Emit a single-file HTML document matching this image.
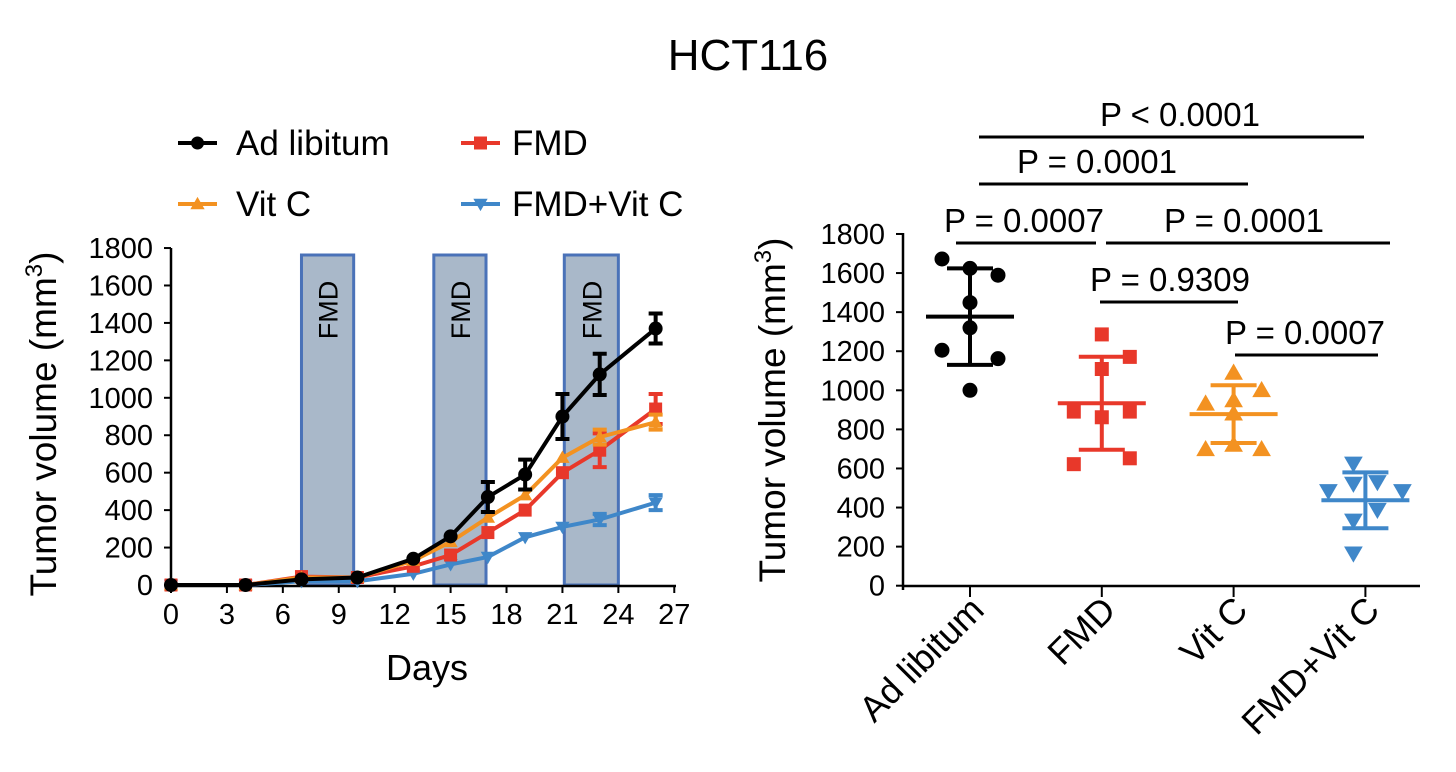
<!DOCTYPE html>
<html><head><meta charset="utf-8"><style>
body{margin:0;background:#fff}
svg{display:block;font-family:"Liberation Sans",Arial,sans-serif}
</style></head><body>
<svg id="s" width="1456" height="772" viewBox="0 0 1456 772">
<text x="748" y="70" font-size="44" text-anchor="middle">HCT116</text>
<g id="L"></g>
<g id="R"></g>
</svg>
<script>
const days=[0,4,7,10,13,15,17,19,21,23,26];
const adLib=[0,0,30,40,140,260,470,590,900,1125,1370];
const adLibErr=[0,0,0,0,0,0,80,80,120,110,80];
const fmd=[0,0,45,40,100,160,280,400,600,720,940];
const fmdErr=[0,0,0,0,0,0,0,0,0,90,80];
const vitc=[0,0,40,40,130,230,360,480,680,790,870];
const vitcErr=[0,0,0,0,0,0,0,0,0,40,40];
const combo=[0,0,20,20,60,110,150,255,310,350,440];
const comboErr=[0,0,0,0,0,0,0,0,0,30,40];
const fmdPeriods=[[7,9.8],[14.1,16.9],[21.1,24]];
const xTicks=[0,3,6,9,12,15,18,21,24,27];
const yTicks=[0,200,400,600,800,1000,1200,1400,1600,1800];
const groups=["Ad libitum","FMD","Vit C","FMD+Vit C"];
const gAd=[1672,1624,1589,1449,1320,1205,1162,1000];
const gFmd=[1286,1171,1109,891,891,862,652,622];
const gVit=[1089,1000,931,948,880,698,720,698];
const gCombo=[626,523,531,485,485,389,334,166];
const gMean=[1377,934,878,437];
const gSD=[247,238,148,143];
const pLabels=["P < 0.0001","P = 0.0001","P = 0.0007","P = 0.0001","P = 0.9309","P = 0.0007"];
const NS="http://www.w3.org/2000/svg";
function mk(p,t,a){const e=document.createElementNS(NS,t);for(const k in a)e.setAttribute(k,a[k]);p.appendChild(e);return e;}
const L=document.getElementById('L'),R=document.getElementById('R');
const lx=d=>171+d*18.64, ly=v=>585-v*0.1872;
fmdPeriods.forEach((p,i)=>{
 const r=mk(L,'rect',{x:lx(p[0]),y:255,width:lx(p[1])-lx(p[0]),height:ly(0)-255,fill:'#a9b8c9',stroke:'#4a72b8','stroke-width':3});
 
 const cx=(lx(p[0])+lx(p[1]))/2;
 const t=mk(L,'text',{x:0,y:0,'font-size':27,'text-anchor':'middle',transform:`translate(${cx+10},${310}) rotate(-90)`});t.textContent='FMD';
 
});
mk(L,'line',{x1:171,y1:248,x2:171,y2:587,stroke:'#000','stroke-width':2.5});
mk(L,'line',{x1:170,y1:586,x2:676,y2:586,stroke:'#000','stroke-width':2.5});
yTicks.forEach(v=>{mk(L,'line',{x1:164,x2:171,y1:ly(v),y2:ly(v),stroke:'#000','stroke-width':2});
 const t=mk(L,'text',{x:153,y:ly(v)+10,'font-size':29,'text-anchor':'end'});t.textContent=v;
 });
xTicks.forEach(v=>{mk(L,'line',{x1:lx(v),x2:lx(v),y1:586,y2:593,stroke:'#000','stroke-width':2});
 const t=mk(L,'text',{x:lx(v),y:624,'font-size':29,'text-anchor':'middle'});t.textContent=v;
 });
let t=mk(L,'text',{x:427,y:680,'font-size':36,'text-anchor':'middle'});t.textContent='Days';

t=mk(L,'text',{x:0,y:0,'font-size':37,'text-anchor':'middle',transform:'translate(56,424) rotate(-90)'});
t.innerHTML='Tumor volume (mm<tspan dy="-14" font-size="24">3</tspan><tspan dy="14">)</tspan>';

function marker(p,shape,x,y,c,s){
 if(shape==='c')return mk(p,'circle',{cx:x,cy:y,r:s,fill:c});
 if(shape==='s')return mk(p,'rect',{x:x-s,y:y-s,width:2*s,height:2*s,fill:c});
 if(shape==='u')return mk(p,'polygon',{points:`${x},${y-s*1.1} ${x-s*1.1},${y+s*0.8} ${x+s*1.1},${y+s*0.8}`,fill:c});
 return mk(p,'polygon',{points:`${x},${y+s*1.1} ${x-s*1.1},${y-s*0.8} ${x+s*1.1},${y-s*0.8}`,fill:c});
}
const series=[[combo,comboErr,'#3f87c9','d','fmd-vitc'],[fmd,fmdErr,'#e8382a','s','fmd'],[vitc,vitcErr,'#f39221','u','vitc'],[adLib,adLibErr,'#000','c','ad-libitum']];
series.forEach(([vals,err,c,sh,nm])=>{
 const g=mk(L,'g',{});
 mk(g,'polyline',{points:days.map((d,i)=>lx(d)+','+ly(vals[i])).join(' '),fill:'none',stroke:c,'stroke-width':4});
 days.forEach((d,i)=>{
  if(err[i]>0){const x=lx(d),a=ly(vals[i]+err[i]),b=ly(vals[i]-err[i]);
   mk(g,'path',{d:`M${x},${a}V${b}M${x-7},${a}H${x+7}M${x-7},${b}H${x+7}`,stroke:c,'stroke-width':4,fill:'none'});}
  const m=marker(g,sh,lx(d),ly(vals[i]),c,sh==='c'?7:6.5);
  
 });
});
const leg=[['Ad libitum','#000','c',178,143,236],['FMD','#e8382a','s',461,143,512],['Vit C','#f39221','u',178,204,236],['FMD+Vit C','#3f87c9','d',461,204,512]];
leg.forEach(([n,c,sh,x,y,tx])=>{const g=mk(L,'g',{});
 mk(g,'line',{x1:x,x2:x+39,y1:y,y2:y,stroke:c,'stroke-width':4});marker(g,sh,x+19.5,y,c,6.5);
 const t=mk(g,'text',{x:tx,y:y+12,'font-size':35});t.textContent=n;});
const rx=i=>970+i*131.8, ry=v=>585.7-v*0.1954;
mk(R,'line',{x1:903,y1:233,x2:903,y2:590,stroke:'#000','stroke-width':2.5});
mk(R,'line',{x1:902,y1:586,x2:1420,y2:586,stroke:'#000','stroke-width':2.5});
yTicks.forEach(v=>{mk(R,'line',{x1:896,x2:903,y1:ry(v),y2:ry(v),stroke:'#000','stroke-width':2});
 const t=mk(R,'text',{x:885,y:ry(v)+10,'font-size':29,'text-anchor':'end'});t.textContent=v;
 });
groups.forEach((gname,i)=>{mk(R,'line',{x1:rx(i),x2:rx(i),y1:586,y2:597,stroke:'#000','stroke-width':2});
 const t=mk(R,'text',{x:0,y:0,'font-size':36,'text-anchor':'end',transform:`translate(${rx(i)+16},${612}) rotate(-45)`});t.textContent=gname;
 });
t=mk(R,'text',{x:0,y:0,'font-size':37,'text-anchor':'middle',transform:'translate(785,410) rotate(-90)'});
t.innerHTML='Tumor volume (mm<tspan dy="-14" font-size="24">3</tspan><tspan dy="14">)</tspan>';

const offsets=[[-28,0,28,0,0,-28,28,0],[0,28,0,-28,28,0,28,-28],[0,28,-28,0,0,-28,0,28],[-12,-12,12,-37,37,12,-12,-12]];
const gdata=[[gAd,'#000','c'],[gFmd,'#e8382a','s'],[gVit,'#f39221','u'],[gCombo,'#3f87c9','d']];
gdata.forEach(([vals,c,sh],i)=>{const g=mk(R,'g',{});
 vals.forEach((v,j)=>{const m=marker(g,sh,rx(i)+offsets[i][j],ry(v),c,sh==='c'?7.5:sh==='s'?7:8.5);});
 const x=rx(i),m=ry(gMean[i]),a=ry(gMean[i]+gSD[i]),b=ry(gMean[i]-gSD[i]);
 mk(g,'path',{d:`M${x-44},${m}H${x+44}M${x},${a}V${b}M${x-23},${a}H${x+23}M${x-23},${b}H${x+23}`,stroke:c,'stroke-width':4,fill:'none'});
});
const br=[[979,1364,137,1180],[979,1248,184,1097],[956,1096,243,1024],[1106,1390,243,1244],[1100,1238,302,1170],[1235,1378,355,1305]];
br.forEach(([x1,x2,y,cx],i)=>{const g=mk(R,'g',{});
 mk(g,'line',{x1:x1,x2:x2,y1:y,y2:y,stroke:'#000','stroke-width':3});
 const t=mk(g,'text',{x:cx,y:y-11,'font-size':33,'text-anchor':'middle'});t.textContent=pLabels[i];});
</script>
</body></html>
